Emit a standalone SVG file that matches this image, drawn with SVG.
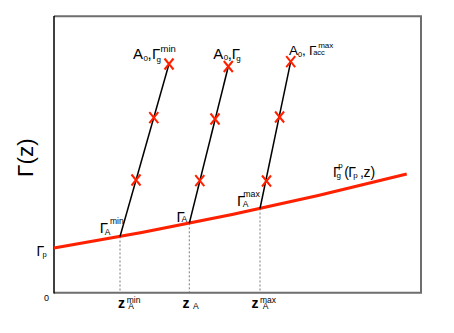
<svg xmlns="http://www.w3.org/2000/svg" xmlns:xlink="http://www.w3.org/1999/xlink" width="454" height="333" viewBox="0 0 454 333">
<style>
.t{font-family:"Liberation Sans",Arial,sans-serif;fill:#000}
.red{fill:none;stroke:#ff2000;stroke-width:3}
.blk{fill:none;stroke:#000;stroke-width:1.5}
.dash{fill:none;stroke:#555;stroke-width:0.8;stroke-dasharray:2,2}
.frm{fill:none;stroke:#6e6e6e;stroke-width:2}
</style>
<defs>
<path id="xm" d="M-4.5,-5.5 L4.5,5.5 M4.5,-5.5 L-4.5,5.5" fill="none" stroke="#ff2000" stroke-width="2"/>
</defs>
<rect width="454" height="333" fill="#fff"/>
<g id="axes">
<path class="frm" d="M54,16.2 H421 V292.7 H54"/>
<line x1="54" y1="16" x2="54" y2="293.5" stroke="#000" stroke-width="1.5"/>
</g>
<g id="connectors">
<path class="dash" d="M120,236.5 V292 M189.3,223.3 V292 M260,208.5 V292"/>
<path class="red" d="M54,248 Q230.35,218.78 406.7,174"/>
<path class="blk" d="M120,236.5 L169,64"/>
<path class="blk" d="M189.3,223.3 L228.3,66.5"/>
<path class="blk" d="M260,208.5 L290.7,61.7"/>
</g>
<g id="marks">
<use xlink:href="#xm" x="169" y="64"/>
<use xlink:href="#xm" x="153.8" y="117.7"/>
<use xlink:href="#xm" x="136" y="180"/>
<use xlink:href="#xm" x="228.3" y="66.5"/>
<use xlink:href="#xm" x="215" y="119"/>
<use xlink:href="#xm" x="199.8" y="180.7"/>
<use xlink:href="#xm" x="290.7" y="61.7"/>
<use xlink:href="#xm" x="279.6" y="117"/>
<use xlink:href="#xm" x="266.5" y="181"/>
</g>
<g id="ylabel">
<text class="t" transform="translate(33,177) rotate(-90)" font-size="22.5">Γ(z)</text>
</g>
<g id="label-min">
<text class="t" font-size="15"><tspan x="133" y="59.3">A</tspan><tspan x="143.5" y="61" font-size="8">0</tspan><tspan x="147.5" y="59.3">,</tspan><tspan x="152" y="59.3">Γ</tspan><tspan x="156.5" y="61.5" font-size="8">g</tspan><tspan x="160.5" y="51.5" font-size="9.5">min</tspan></text>
</g>
<g id="label-mid">
<text class="t" font-size="15"><tspan x="213.3" y="58.5">A</tspan><tspan x="223.8" y="60.3" font-size="8">0</tspan><tspan x="227.8" y="58.5">,</tspan><tspan x="231.8" y="58.5">Γ</tspan><tspan x="236.3" y="60.8" font-size="8">g</tspan></text>
</g>
<g id="label-max">
<text class="t" font-size="13.5"><tspan x="289" y="55">A</tspan><tspan x="298" y="56.8" font-size="7.5">0</tspan><tspan x="302" y="55">,</tspan><tspan x="309" y="55">Γ</tspan><tspan x="313.2" y="55.2" font-size="7.5">acc</tspan><tspan x="318.2" y="48.3" font-size="8">max</tspan></text>
</g>
<g id="gamma-a-min">
<text class="t" font-size="15"><tspan x="99.8" y="232.8">Γ</tspan><tspan x="104.8" y="235.2" font-size="8.5">A</tspan><tspan x="110" y="224.2" font-size="8.5">min</tspan></text>
</g>
<g id="gamma-a">
<text class="t" font-size="15"><tspan x="176.5" y="221.7">Γ</tspan><tspan x="181.5" y="222" font-size="8.5">A</tspan></text>
</g>
<g id="gamma-a-max">
<text class="t" font-size="15"><tspan x="237" y="206">Γ</tspan><tspan x="242.8" y="206.7" font-size="8.5">A</tspan><tspan x="243.3" y="197.3" font-size="8.8">max</tspan></text>
</g>
<g id="gamma-p">
<text class="t" font-size="14"><tspan x="36.5" y="256">Γ</tspan><tspan x="42.5" y="256.6" font-size="7.5">p</tspan></text>
</g>
<g id="origin">
<text class="t" x="44" y="301" font-size="9">0</text>
</g>
<g id="curve-label">
<text class="t" font-size="14"><tspan x="333" y="176.7">Γ</tspan><tspan x="336.5" y="178" font-size="8">g</tspan><tspan x="338.3" y="168" font-size="8">p</tspan><tspan x="344.3" y="176.7">(</tspan><tspan x="348.3" y="176.7">Γ</tspan><tspan x="353.3" y="177.8" font-size="8">p</tspan><tspan x="356" y="176.7"> ,</tspan><tspan x="363.5" y="176.7">z)</tspan></text>
</g>
<g id="xlabels">
<text class="t" font-size="8.5"><tspan x="118" y="308.3" font-size="14" font-weight="bold">z</tspan><tspan x="128.3" y="309.3">A</tspan><tspan x="126.7" y="302.7">min</tspan></text>
<text class="t" font-size="8.5"><tspan x="182.5" y="308.3" font-size="14" font-weight="bold">z</tspan><tspan x="191" y="309.3"> A</tspan></text>
<text class="t" font-size="8.5"><tspan x="251.5" y="308.3" font-size="14" font-weight="bold">z</tspan><tspan x="262.7" y="309.3">A</tspan><tspan x="260" y="302.7">max</tspan></text>
</g>
</svg>
